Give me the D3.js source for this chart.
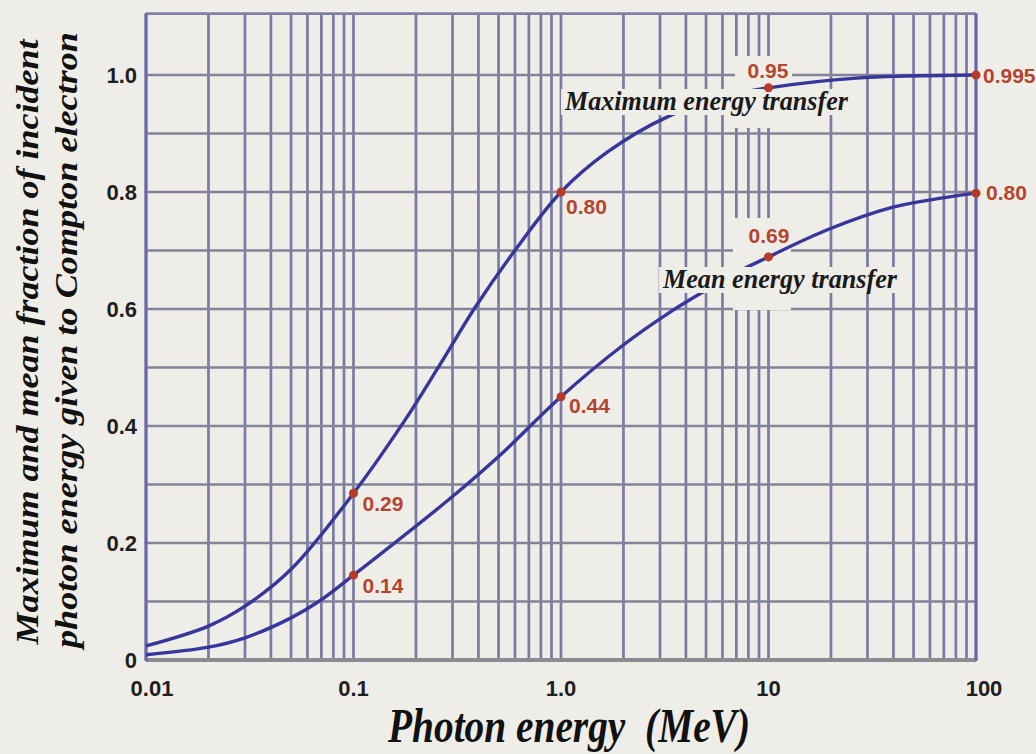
<!DOCTYPE html>
<html><head><meta charset="utf-8">
<script src="https://cdn.jsdelivr.net/npm/d3@7"></script>
<style>html,body{margin:0;padding:0;background:#eeede8;} svg{display:block;}</style>
</head><body><svg id="c" width="1036" height="754"></svg>
<script>
// ---- data ----
const maxEnergy   = [0.01, 0.02, 0.03, 0.05, 0.1, 0.177, 0.261, 0.386, 0.614, 1, 1.67, 3.24, 7.13, 10, 27.6, 100];
const maxFraction = [0.024, 0.058, 0.092, 0.155, 0.285, 0.41, 0.505, 0.603, 0.705, 0.80, 0.868, 0.928, 0.968, 0.978, 0.995, 1.0];
const meanEnergy   = [0.01, 0.02, 0.03, 0.05, 0.07, 0.1, 0.292, 0.508, 1, 1.99, 3.47, 4.83, 7.45, 10, 19.1, 39.8, 69.3, 100];
const meanFraction = [0.009, 0.022, 0.038, 0.072, 0.103, 0.145, 0.276, 0.35, 0.45, 0.538, 0.598, 0.629, 0.667, 0.689, 0.735, 0.774, 0.79, 0.798];
const markEnergy = [0.1, 1, 10, 100];
const maxMarkValue  = [0.285, 0.80, 0.978, 1.0];
const maxMarkLabel  = ["0.29", "0.80", "0.95", "0.995"];
const meanMarkValue = [0.145, 0.45, 0.689, 0.798];
const meanMarkLabel = ["0.14", "0.44", "0.69", "0.80"];
const xTickValues = [0.01, 0.1, 1, 10, 100];
const xTickLabels = ["0.01", "0.1", "1.0", "10", "100"];
const yTickValues = [0, 0.2, 0.4, 0.6, 0.8, 1.0];
const yTickLabels = ["0", "0.2", "0.4", "0.6", "0.8", "1.0"];
const curveLabels = ["Maximum energy transfer", "Mean energy transfer"];
const xTitle = "Photon energy\u00a0\u00a0(MeV)";
const yTitle = ["Maximum and mean fraction of incident", "photon energy given to Compton electron"];

// ---- layout ----
const BG = "#eeede8";
const svg = d3.select("#c");
svg.append("rect").attr("width", 1036).attr("height", 754).attr("fill", BG);

const x = d3.scaleLog().domain([0.01, 100]).range([146, 976]);
const y = d3.scaleLinear().domain([0, 1]).range([660, 75]);
const yTop = y(1.105);

const g = svg.append("g");
g.selectAll("line.v").data(x.ticks()).join("line")
  .attr("x1", d => x(d)).attr("x2", d => x(d))
  .attr("y1", yTop).attr("y2", y(0))
  .attr("stroke", "#7a7aa2").attr("stroke-width", 2.7);
g.selectAll("line.h").data(d3.range(0, 11).map(i => i / 10)).join("line")
  .attr("x1", x(0.01)).attr("x2", x(100))
  .attr("y1", d => y(d)).attr("y2", d => y(d))
  .attr("stroke", "#828298").attr("stroke-width", 2.7);

// erase areas around labels (hide grid)
const erase = svg.append("g");
erase.append("rect").attr("x", 733).attr("y", 218).attr("width", 58).attr("height", 92).attr("fill", BG);
erase.append("rect").attr("x", 735).attr("y", 56).attr("width", 57).attr("height", 72).attr("fill", BG);

// frame
svg.append("line").attr("x1", x(0.01)).attr("x2", x(100)).attr("y1", yTop).attr("y2", yTop)
  .attr("stroke", "#7f7fa6").attr("stroke-width", 2.6);
svg.append("line").attr("x1", x(0.01)).attr("x2", x(100)).attr("y1", y(0)).attr("y2", y(0))
  .attr("stroke", "#8a8a90").attr("stroke-width", 4);
[0.01, 100].forEach(v => svg.append("line").attr("x1", x(v)).attr("x2", x(v))
  .attr("y1", yTop).attr("y2", y(0) + 1).attr("stroke", "#6868ad").attr("stroke-width", 3));

// curves
const line = d3.line().x(d => x(d[0])).y(d => y(d[1])).curve(d3.curveCatmullRom.alpha(0.5));
const curveColor = "#36369b";
svg.append("path").datum(d3.zip(maxEnergy, maxFraction)).attr("d", line)
  .attr("fill", "none").attr("stroke", curveColor).attr("stroke-width", 3.4);
svg.append("path").datum(d3.zip(meanEnergy, meanFraction)).attr("d", line)
  .attr("fill", "none").attr("stroke", curveColor).attr("stroke-width", 3.4);

// curve labels with background
const serif = "'Liberation Serif', 'Times New Roman', serif";
const curveLabelPos = [{x: 565, y: 110, len: 283}, {x: 663, y: 288, len: 234}];
curveLabels.forEach((t, i) => {
  const p = curveLabelPos[i];
  const bgRect = svg.append("rect").attr("fill", BG);
  const txt = svg.append("text").attr("x", p.x).attr("y", p.y)
    .attr("font-family", serif).attr("font-weight", "bold").attr("font-style", "italic")
    .attr("font-size", 28).attr("fill", "#1a1a1a")
    .attr("textLength", p.len).attr("lengthAdjust", "spacingAndGlyphs").text(t);
  const b = txt.node().getBBox();
  bgRect.attr("x", b.x - 3).attr("y", b.y + 4).attr("width", b.width + 6).attr("height", b.height - 5);
});

// marks
const red = "#b83a28";
const labelRed = "#b4452f";
const sans = "'Liberation Sans', Arial, sans-serif";
function marks(values, labels, offs) {
  markEnergy.forEach((e, i) => {
    const cx = x(e), cy = y(values[i]);
    svg.append("circle").attr("cx", cx).attr("cy", cy).attr("r", 4.5).attr("fill", red);
    svg.append("text").attr("x", cx + offs[i][0]).attr("y", cy + offs[i][1])
      .attr("font-family", sans).attr("font-weight", "bold").attr("font-size", 21)
      .attr("fill", labelRed).text(labels[i]);
  });
}
marks(maxMarkValue, maxMarkLabel, [[9, 18], [5, 22], [-21, -10], [7, 8]]);
marks(meanMarkValue, meanMarkLabel, [[9, 18], [8, 16], [-20, -14], [10, 7]]);

// axis tick labels
const tickOff = [6, 0, 0, 0, 8];
svg.append("g").selectAll("text").data(xTickValues).join("text")
  .attr("x", (d, i) => x(d) + tickOff[i]).attr("y", 696)
  .attr("text-anchor", "middle").attr("font-family", sans).attr("font-weight", "bold")
  .attr("font-size", 22).attr("fill", "#1e1e1e").text((d, i) => xTickLabels[i]);
svg.append("g").selectAll("text").data(yTickValues).join("text")
  .attr("x", 137).attr("y", d => y(d) + 8)
  .attr("text-anchor", "end").attr("font-family", sans).attr("font-weight", "bold")
  .attr("font-size", 22).attr("fill", "#1e1e1e").text((d, i) => yTickLabels[i]);

// titles
svg.append("text").attr("x", 569).attr("y", 742).attr("text-anchor", "middle")
  .attr("font-family", serif).attr("font-weight", "bold").attr("font-style", "italic")
  .attr("font-size", 48).attr("fill", "#111")
  .attr("textLength", 362).attr("lengthAdjust", "spacingAndGlyphs").text(xTitle);
const yt = [{bx: 38, len: 605, c: 342}, {bx: 77, len: 616, c: 340}];
yTitle.forEach((t, i) => {
  svg.append("text").attr("transform", `translate(${yt[i].bx},${yt[i].c}) rotate(-90)`)
    .attr("text-anchor", "middle")
    .attr("font-family", serif).attr("font-weight", "bold").attr("font-style", "italic")
    .attr("font-size", 31).attr("fill", "#111")
    .attr("textLength", yt[i].len).attr("lengthAdjust", "spacingAndGlyphs").text(t);
});
</script></body></html>
